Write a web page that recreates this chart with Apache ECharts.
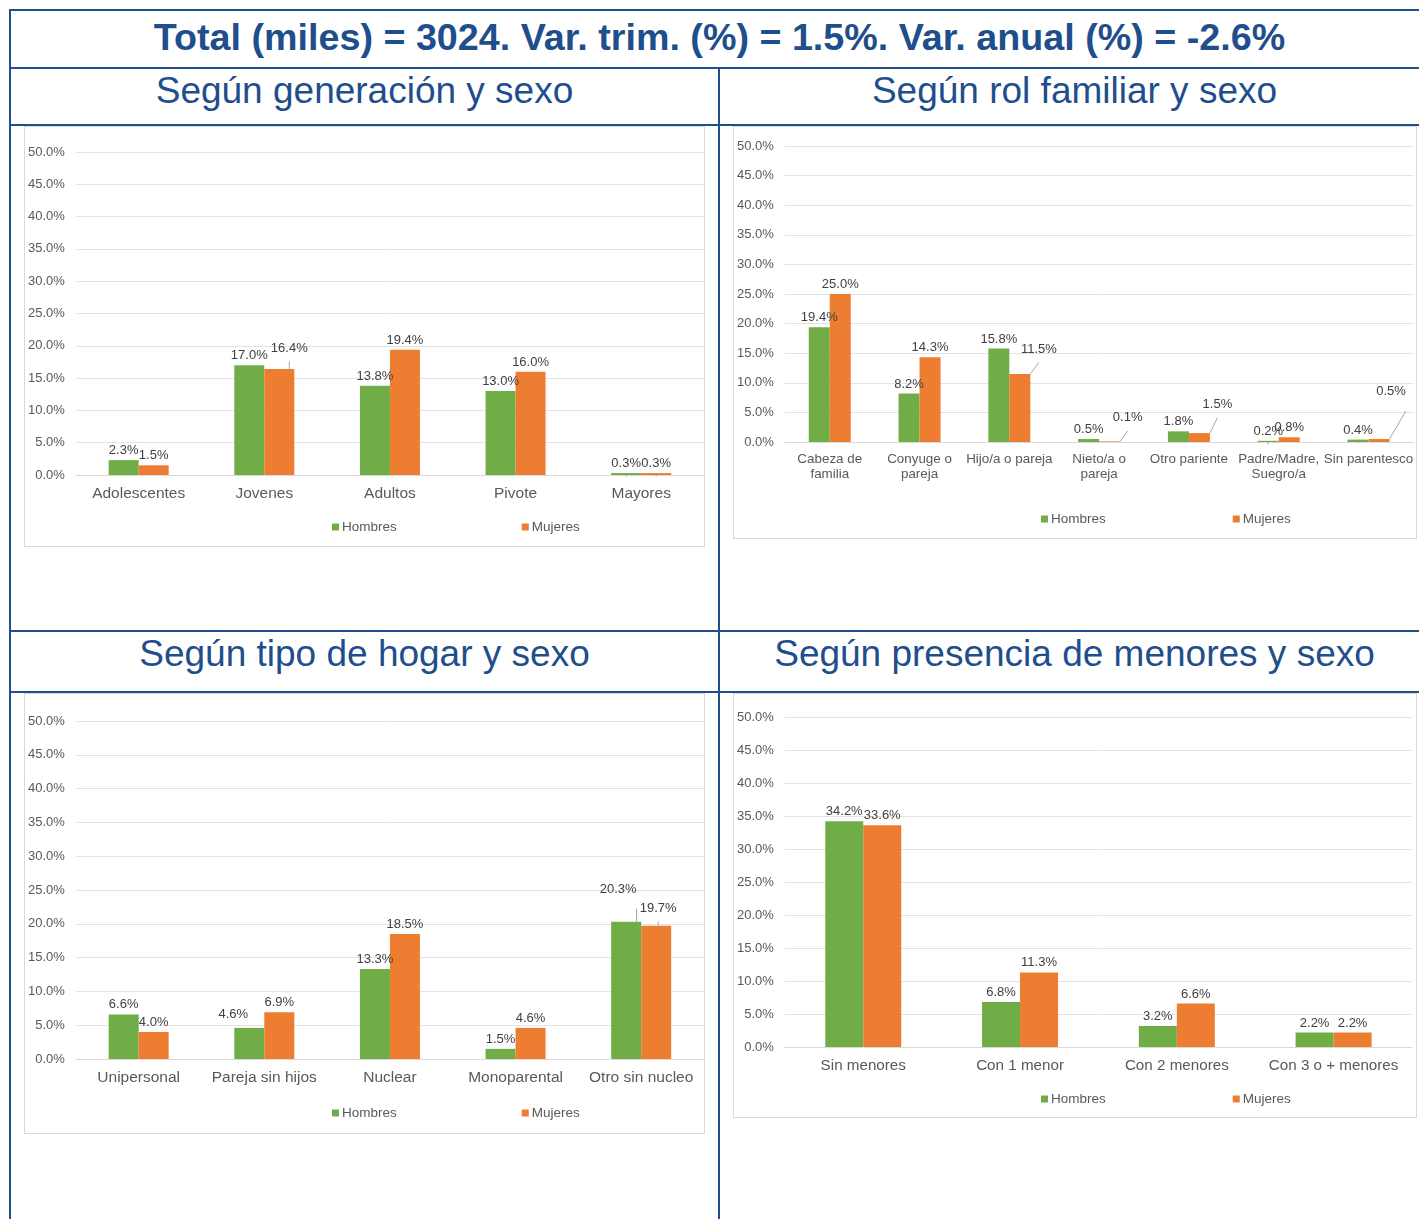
<!DOCTYPE html>
<html>
<head>
<meta charset="utf-8">
<script src="https://cdn.jsdelivr.net/npm/echarts@6/dist/echarts.min.js"></script>
<style>
  html, body { margin: 0; padding: 0; background: #fff; overflow: hidden; }
  body { width: 1419px; height: 1219px; position: relative; font-family: 'Liberation Sans', Arial, sans-serif; }
  .ln { position: absolute; background: #1f4e8c; }
  .ttl { position: absolute; text-align: center; color: #1f4e8c; white-space: nowrap; }
  .panel { position: absolute; border: 1px solid #d9d9d9; box-sizing: border-box; background: #fff; }
</style>
</head>
<body>
  <!-- table borders -->
  <div class="ln" style="left:9px;top:9px;width:1420px;height:2px"></div>
  <div class="ln" style="left:9px;top:67px;width:1420px;height:2px"></div>
  <div class="ln" style="left:9px;top:124px;width:1420px;height:2px"></div>
  <div class="ln" style="left:9px;top:630px;width:1420px;height:2px"></div>
  <div class="ln" style="left:9px;top:691px;width:1420px;height:2px"></div>
  <div class="ln" style="left:9px;top:9px;width:2px;height:1220px"></div>
  <div class="ln" style="left:718px;top:67px;width:2px;height:1160px"></div>

  <div class="ttl" style="left:10px;width:1419px;top:9px;line-height:56px;font-size:37.7px;font-weight:bold">Total (miles) = 3024. Var. trim. (%) = 1.5%. Var. anual (%) = -2.6%</div>
  <div class="ttl" style="left:10px;width:709px;top:69px;line-height:44px;font-size:37px">Según generación y sexo</div>
  <div class="ttl" style="left:720px;width:709px;top:69px;line-height:44px;font-size:37px">Según rol familiar y sexo</div>
  <div class="ttl" style="left:10px;width:709px;top:632px;line-height:44px;font-size:37px">Según tipo de hogar y sexo</div>
  <div class="ttl" style="left:720px;width:709px;top:632px;line-height:44px;font-size:37px">Según presencia de menores y sexo</div>

  <div id="c1" class="panel" style="left:24px;top:126px;width:681px;height:421px"></div>
  <div id="c2" class="panel" style="left:733px;top:126px;width:684px;height:413px"></div>
  <div id="c3" class="panel" style="left:24px;top:693px;width:681px;height:441px"></div>
  <div id="c4" class="panel" style="left:733px;top:693px;width:684px;height:425px"></div>

<script>
// data
const series = ['Hombres', 'Mujeres']

const genCats = ['Adolescentes', 'Jovenes', 'Adultos', 'Pivote', 'Mayores']
const genMen = [2.3, 17.0, 13.8, 13.0, 0.3]
const genWomen = [1.5, 16.4, 19.4, 16.0, 0.3]

const rolCats = ['Cabeza de\nfamilia', 'Conyuge o\npareja', 'Hijo/a o pareja', 'Nieto/a o\npareja', 'Otro pariente', 'Padre/Madre,\nSuegro/a', 'Sin parentesco']
const rolMen = [19.4, 8.2, 15.8, 0.5, 1.8, 0.2, 0.4]
const rolWomen = [25.0, 14.3, 11.5, 0.1, 1.5, 0.8, 0.5]

const hogCats = ['Unipersonal', 'Pareja sin hijos', 'Nuclear', 'Monoparental', 'Otro sin nucleo']
const hogMen = [6.6, 4.6, 13.3, 1.5, 20.3]
const hogWomen = [4.0, 6.9, 18.5, 4.6, 19.7]

const menCats = ['Sin menores', 'Con 1 menor', 'Con 2 menores', 'Con 3 o + menores']
const menMen = [34.2, 6.8, 3.2, 2.2]
const menWomen = [33.6, 11.3, 6.6, 2.2]

const colors = ['#70ad47', '#ed7d31']
const txt = '#595959'

function buildChart(id, cats, men, women, cfg) {
  const chart = echarts.init(document.getElementById(id), null, { renderer: 'canvas' })
  chart.setOption({
    animation: false,
    textStyle: { fontFamily: 'Liberation Sans, Arial, sans-serif' },
    grid: cfg.grid,
    legend: {
      data: series,
      left: cfg.legendLeft,
      top: cfg.legendTop,
      itemWidth: 7,
      itemHeight: 7,
      itemGap: cfg.legendGap,
      icon: 'rect',
      textStyle: { color: txt, fontSize: 13.5, padding: [0, 0, 0, -2] },
    },
    xAxis: {
      type: 'category',
      data: cats,
      axisTick: { show: false },
      axisLine: { lineStyle: { color: '#d9d9d9' } },
      axisLabel: { color: txt, fontSize: cfg.catFont, margin: cfg.catMargin, interval: 0, lineHeight: 15 },
    },
    yAxis: {
      type: 'value',
      min: 0,
      max: 50,
      interval: 5,
      axisLabel: { color: txt, fontSize: 13, margin: 11, formatter: v => v.toFixed(1) + '%' },
      splitLine: { lineStyle: { color: '#e3e3e3' } },
    },
    series: [men, women].map((vals, i) => ({
      name: series[i],
      type: 'bar',
      barWidth: cfg.barWidth,
      barGap: '0%',
      itemStyle: { color: colors[i] },
      label: {
        show: true,
        position: 'top',
        distance: 3,
        color: '#404040',
        fontSize: 13,
        formatter: p => p.value.toFixed(1) + '%',
      },
      labelLine: { show: true, lineStyle: { color: '#a6a6a6', width: 1 } },
      data: vals.map((v, j) => {
        const off = cfg.offsets && cfg.offsets[i] && cfg.offsets[i][j]
        return off ? { value: v, label: { offset: off } } : v
      }),
    })),
  })
  return chart
}

buildChart('c1', genCats, genMen, genWomen, {
  grid: { left: 50, right: 0, top: 25, bottom: 71 },
  barWidth: 30, catFont: 15.5, catMargin: 11,
  legendLeft: 302, legendTop: 388, legendGap: 125,
  offsets: [[0, 0, 0, 0, 0], [0, [10, -11], 0, 0, 0]],
})

buildChart('c2', rolCats, rolMen, rolWomen, {
  grid: { left: 49, right: 2, top: 19, bottom: 96 },
  barWidth: 21, catFont: 13.4, catMargin: 10,
  legendLeft: 302, legendTop: 380, legendGap: 127,
  offsets: [[0, 0, 0, 0, 0, 0, 0], [0, 0, [19, -15], [18, -14], [18, -19], 0, [12, -38]]],
})

buildChart('c3', hogCats, hogMen, hogWomen, {
  grid: { left: 50, right: 0, top: 27, bottom: 74 },
  barWidth: 30, catFont: 15.5, catMargin: 11,
  legendLeft: 302, legendTop: 407, legendGap: 125,
  offsets: [[0, [-16, -4], 0, 0, [-8, -23]], [0, 0, 0, 0, [2, -8]]],
})

buildChart('c4', menCats, menMen, menWomen, {
  grid: { left: 49, right: 4, top: 23, bottom: 70 },
  barWidth: 38, catFont: 15.2, catMargin: 11,
  legendLeft: 302, legendTop: 393, legendGap: 127,
})
</script>
</body>
</html>
